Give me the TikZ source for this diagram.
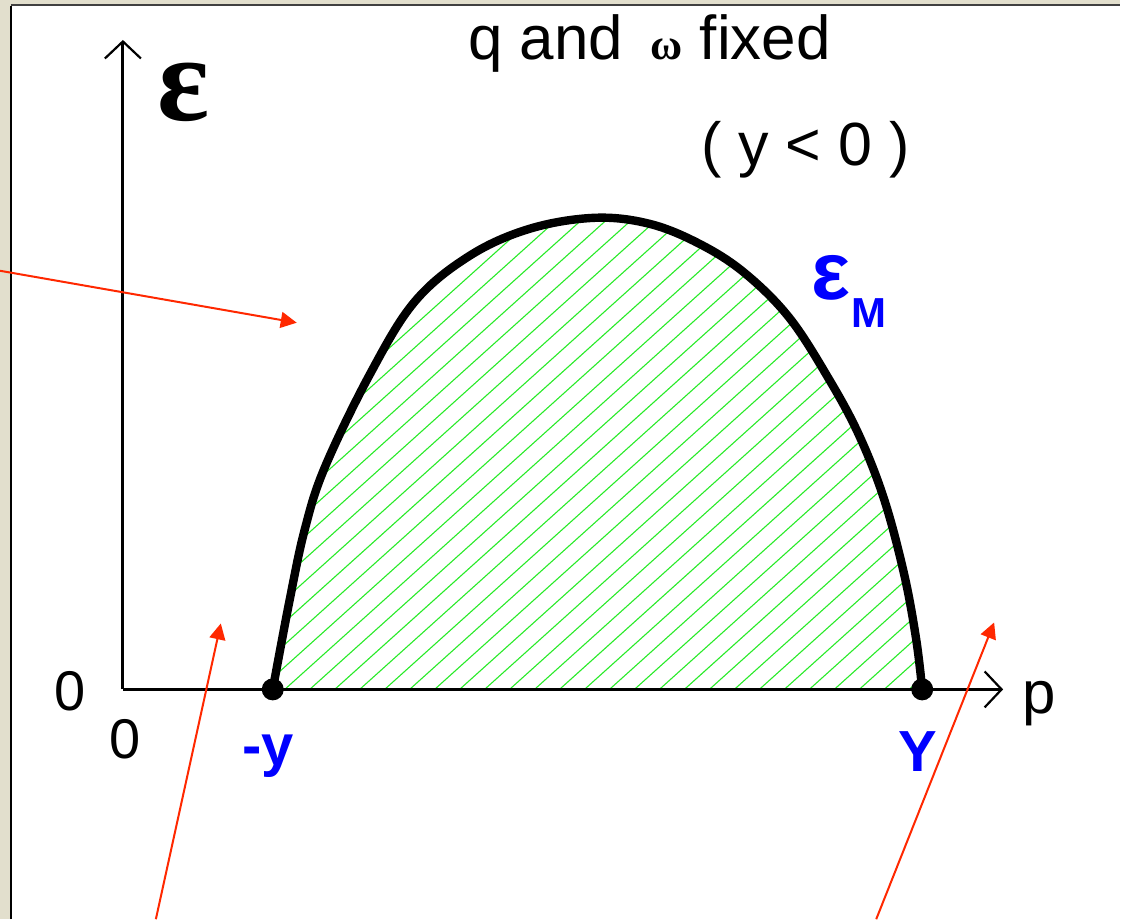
\documentclass[tikz,border=0pt]{standalone}
\usepackage{fontspec}
\setmainfont{Liberation Sans}
\newfontfamily\greekserif{Liberation Serif}
\usepackage{tikz}
\usetikzlibrary{arrows.meta,positioning}

\definecolor{framebeige}{RGB}{226,223,205}
\definecolor{arrowred}{RGB}{255,40,0}
\definecolor{hatchgreen}{RGB}{40,235,40}

% upper boundary of the allowed region
\newcommand{\domecurve}{plot[smooth,tension=0.6] coordinates {(273,690) (290,600) (305,530) (325,468) (370,375) (415,302) (470,256) (530,229) (595,218) (650,224) (700,244) (745,273) (790,318) (830,380) (860,436) (885,500) (905,575) (917,640) (923,690)}}

\begin{document}
\begin{tikzpicture}[x=0.5pt,y=-0.5pt,
  axis/.style={line width=1.4pt,-{Straight Barb[length=8.5pt,width=18pt,line width=1.1pt]}},
  dome/.style={line width=4.2pt,line join=round},
  hatch/.style={hatchgreen,line width=0.55pt},
  endpt/.style={circle,fill=black,inner sep=0pt,minimum size=11pt},
  pointer/.style={arrowred,line width=1pt,-{Triangle[length=8pt,width=8pt]}},
  lbl/.style={inner sep=0pt,font=\fontsize{28}{30}\selectfont},
  bluelbl/.style={lbl,text=blue,font=\fontsize{29}{31}\selectfont\bfseries}]

  % window frame
  \fill[framebeige] (0,0) rectangle (1121,920);
  \fill[white] (11,6) rectangle (1121,920);
  \draw[line width=1.2pt] (11,920) -- (11,6);
  \draw[black!75,line width=1pt] (11,5.5) -- (1121,5.5);
  \useasboundingbox (0,0) rectangle (1121,920);

  % hatched region under the curve
  \begin{scope}
    \clip \domecurve -- cycle;
    \foreach \k in {-30,...,40}
      \draw[hatch] ({285+25*\k},690) -- ++(700,-630);
  \end{scope}

  % axes
  \coordinate (origin) at (123,690);
  \coordinate (etop) at (123,40);
  \coordinate (pend) at (1004,690);
  \draw[axis] (origin) -- (etop);
  \draw[axis] (origin) -- (pend);

  % the curve and its end points
  \draw[dome] \domecurve;
  \node[endpt] (ylo) at (273,690) {};
  \node[endpt] (yhi) at (923,690) {};

  % labels
  \node[inner sep=0pt] (eps) at (184,92) {\fontsize{61}{63}\selectfont\greekserif\bfseries ε};
  \node[lbl,anchor=base] (title) at (650,60) {\fontsize{31}{33}\selectfont q and \,{\greekserif\fontsize{22}{24}\selectfont\bfseries ω} fixed};
  \node[lbl,anchor=base] (cond) at (806,166) {\fontsize{30.5}{32}\selectfont ( y < 0 )};
  \node[inner sep=0pt,text=blue] (epsM) at (832,278) {\fontsize{41}{43}\selectfont\bfseries ε};
  \node[inner sep=0pt,text=blue,anchor=base] (epsMsub) at (870,328) {\fontsize{21}{23}\selectfont\bfseries M};
  \node[lbl] (zeroe) at (70,692) {0};
  \node[lbl] (zerop) at (125,740) {0};
  \node[lbl,anchor=base] (plbl) at (1040,714) {\fontsize{30}{32}\selectfont p};
  \node[bluelbl,anchor=base] (ylolbl) at (268,766) {-y};
  \node[bluelbl,anchor=base] (yhilbl) at (919,772) {Y};

  % pointers from outside
  \coordinate (ptrA) at (0,271);
  \coordinate (tipA) at (297,323);
  \coordinate (ptrB) at (156,920);
  \coordinate (tipB) at (221,624);
  \coordinate (ptrC) at (877,920);
  \coordinate (tipC) at (995,623);
  \draw[pointer] (ptrA) -- (tipA);
  \draw[pointer] (ptrB) -- (tipB);
  \draw[pointer] (ptrC) -- (tipC);
\end{tikzpicture}
\end{document}
